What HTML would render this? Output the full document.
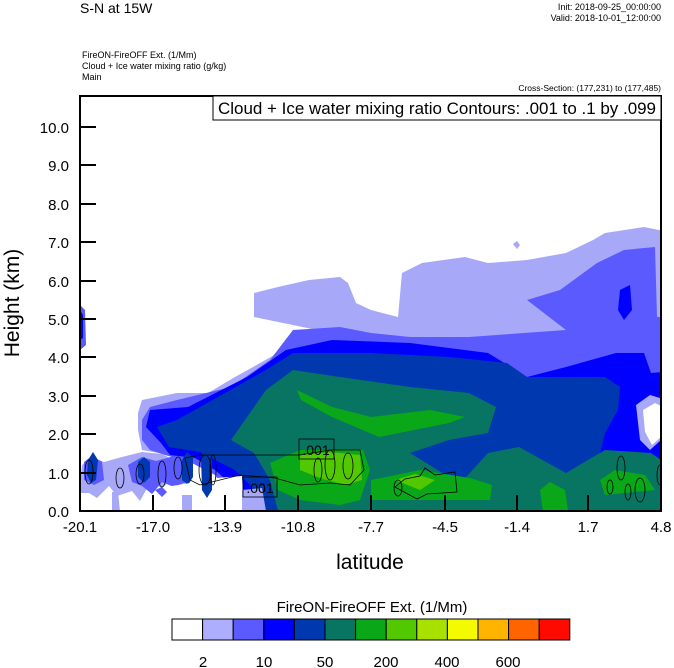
<!DOCTYPE html>
<html><head><meta charset="utf-8"><style>
body{margin:0;background:#fff;}
svg{display:block;font-family:"Liberation Sans",Arial,sans-serif;}
</style></head><body>
<svg width="674" height="668" viewBox="0 0 674 668" xmlns="http://www.w3.org/2000/svg">
<rect width="674" height="668" fill="#fff"/>
<text x="80" y="13" font-size="14">S-N at 15W</text>
<text x="661" y="10" font-size="9" text-anchor="end">Init: 2018-09-25_00:00:00</text>
<text x="661" y="21" font-size="9" text-anchor="end">Valid: 2018-10-01_12:00:00</text>
<text x="82" y="58" font-size="9">FireON-FireOFF Ext.   (1/Mm)</text>
<text x="82" y="69" font-size="9">Cloud + Ice water mixing ratio   (g/kg)</text>
<text x="82" y="80" font-size="9">Main</text>
<text x="661" y="91" font-size="8.5" text-anchor="end">Cross-Section: (177,231) to (177,485)</text>
<defs><clipPath id="pc"><rect x="80" y="96" width="581" height="415"/></clipPath></defs>
<g clip-path="url(#pc)">
<!-- lavender -->
<path fill="#a8a8f8" d="M254,317 L254,293 L278,287 L309,280 L340,277 L348,283 L356,303 L371,310 L398,317 L402,273 L422,263 L465,257 L488,263 L527,260 L566,253 L593,240 L605,233 L644,227 L659,230 L663,230 L663,511 L225,511 L222,485 L212,470 L195,460 L170,455 L142,450 L138,430 L138,413 L142,400 L177,393 L208,393 L235,377 L278,353 L317,330 Z"/>
<path fill="#a8a8f8" d="M513,244 l4,-3 l3,4 l-3,4 Z"/>
<path fill="#a8a8f8" d="M82,465 l10,-8 l12,5 l18,-5 l20,-5 l20,2 l12,6 l-2,20 l-10,8 l-12,-5 l-10,18 l-8,-10 l-15,5 l-8,-10 l-12,12 l-8,-5 l-10,0 Z"/>
<path fill="#a8a8f8" d="M175,485 l8,-5 l6,6 l0,25 l-12,0 Z"/>
<path fill="#a8a8f8" d="M112,492 l6,0 l2,19 l-8,0 Z"/>
<!-- medium blue -->
<path fill="#5a5aff" d="M293,330 L340,327 L371,333 L410,337 L469,337 L566,330 L527,300 L560,290 L597,263 L624,250 L655,247 L657,317 L663,317 L663,511 L232,511 L225,490 L215,475 L190,462 L165,455 L150,450 L142,440 L142,420 L150,407 L177,400 L231,387 L270,360 Z"/>
<path fill="#5a5aff" d="M80,305 L85,310 L86,345 L80,350 Z"/>
<path fill="#5a5aff" d="M84,462 l8,-6 l10,6 l2,18 l-10,5 l-10,-5 Z"/>
<path fill="#5a5aff" d="M128,465 l14,-8 l14,4 l22,-6 l10,8 l0,18 l-14,6 l-12,-5 l-10,12 l-10,-8 l-10,-4 Z"/>
<path fill="#5a5aff" d="M155,490 l7,-3 l5,5 l-5,5 Z"/>
<!-- blue -->
<path fill="#0000ff" d="M286,350 L332,340 L410,343 L488,353 L527,377 L566,367 L616,353 L644,353 L651,373 L663,372 L663,511 L240,511 L232,485 L215,470 L195,458 L170,455 L161,443 L146,427 L150,410 L188,407 L247,377 Z"/>
<path fill="#0000ff" d="M620,290 L630,285 L632,310 L624,320 L618,310 Z"/>
<path fill="#0000ff" d="M80,310 L83,315 L83,338 L80,340 Z"/>
<!-- white hole right -->
<path fill="#a8a8f8" d="M636,405 L650,395 L660,398 L661,440 L650,450 L640,440 Z"/>
<path fill="#fff" d="M643,410 L655,403 L661,406 L661,437 L652,445 L645,432 Z"/>
<!-- dark blue -->
<path fill="#0038b0" d="M266,370 L293,353 L371,353 L449,357 L507,363 L527,377 L605,377 L620,387 L618,410 L605,433 L600,453 L630,470 L650,463 L663,470 L663,511 L265,511 L250,485 L235,470 L215,460 L200,452 L169,447 L157,427 L177,420 Z"/>
<path fill="#0038b0" d="M88,460 l5,-8 l5,8 l-2,20 l-5,3 l-4,-8 Z"/>
<path fill="#0038b0" d="M138,462 l6,-5 l6,5 l0,15 l-6,6 l-6,-6 Z"/>
<path fill="#0038b0" d="M182,460 l5,-8 l6,5 l0,20 l-5,8 l-6,-5 Z"/>
<!-- white bottom-left -->
<path fill="#fff" d="M172,486 L196,482 L200,496 L212,496 L216,478 L242,476 L244,511 L172,511 Z"/>
<path fill="#a8a8f8" d="M242,490 L262,488 L266,511 L242,511 Z"/>
<path fill="#a8a8f8" d="M182,495 L192,495 L192,511 L182,511 Z"/>
<path fill="#0038b0" d="M201,455 l6,-6 l5,6 l0,35 l-5,8 l-5,-8 Z"/>
<!-- teal -->
<path fill="#077562" d="M266,390 L293,370 L340,377 L410,387 L469,393 L496,407 L488,433 L449,440 L410,453 L449,477 L457,487 L488,453 L519,447 L566,473 L605,450 L651,453 L661,460 L661,511 L278,511 L270,480 L254,453 L231,440 Z"/>
<!-- green -->
<path fill="#0aa818" d="M297,390 L332,407 L371,417 L430,410 L465,417 L449,423 L379,437 L332,417 L301,400 Z"/>
<path fill="#0aa818" d="M270,463 L300,450 L363,450 L370,470 L360,500 L340,505 L300,500 L278,490 Z"/>
<path fill="#0aa818" d="M371,480 L420,470 L470,478 L492,485 L490,500 L430,500 L371,500 Z"/>
<path fill="#0aa818" d="M540,490 l10,-8 l15,8 l3,21 l-25,0 Z"/>
<path fill="#0aa818" d="M600,480 l15,-10 l30,5 l10,15 l-50,5 Z"/>
<!-- light green -->
<path fill="#52c800" d="M300,455 L330,452 L360,455 L362,480 L345,485 L320,478 L300,470 Z"/>
<path fill="#52c800" d="M395,480 l20,-6 l20,6 l-15,10 Z"/>
<!-- contours -->
<g fill="none" stroke="#000" stroke-width="0.8">
<ellipse cx="89" cy="472" rx="4" ry="12"/>
<ellipse cx="120" cy="478" rx="4" ry="10"/>
<ellipse cx="140" cy="474" rx="4" ry="10"/>
<ellipse cx="162" cy="474" rx="4" ry="13"/>
<ellipse cx="178" cy="468" rx="4" ry="11"/>
<ellipse cx="205" cy="470" rx="6" ry="15"/>
<ellipse cx="213" cy="470" rx="3" ry="15"/>
<path d="M185,458 L200,455 L240,455 L300,455 L330,450 L360,450 L364,470 L350,485 L330,483 L300,485 L275,478 L240,475 L200,485 L190,480 Z"/>
<ellipse cx="330" cy="465" rx="5" ry="15"/>
<ellipse cx="348" cy="466" rx="5" ry="13"/>
<ellipse cx="318" cy="470" rx="4" ry="12"/>
<path d="M395,487 l10,-8 l15,-3 l5,-8 l10,7 l20,-3 l2,20 l-30,2 l-10,5 Z"/>
<ellipse cx="398" cy="488" rx="4" ry="8"/>
<ellipse cx="621" cy="468" rx="4" ry="12"/>
<ellipse cx="610" cy="487" rx="3" ry="7"/>
<ellipse cx="640" cy="490" rx="5" ry="12"/>
<ellipse cx="628" cy="492" rx="3" ry="8"/>
<ellipse cx="660" cy="475" rx="3" ry="10"/>
</g>
<rect x="299" y="439" width="35" height="20" fill="none" stroke="#000" stroke-width="0.8"/>
<text x="316" y="455" font-size="14" text-anchor="middle">.001</text>
<rect x="243" y="477" width="34" height="20" fill="none" stroke="#000" stroke-width="0.8"/>
<text x="260" y="493" font-size="14" text-anchor="middle">.001</text>
</g>
<!-- frame -->
<rect x="80" y="96" width="581" height="415" fill="none" stroke="#000" stroke-width="2"/>
<rect x="213" y="96" width="448" height="24" fill="#fff" stroke="#000" stroke-width="1"/>
<text x="218" y="114" font-size="17" textLength="438" lengthAdjust="spacingAndGlyphs">Cloud + Ice water mixing ratio Contours: .001 to .1 by .099</text>
<g stroke="#000" stroke-width="2">
<line x1="80" y1="127" x2="96" y2="127"/><line x1="80" y1="165" x2="96" y2="165"/><line x1="80" y1="204" x2="96" y2="204"/><line x1="80" y1="242" x2="96" y2="242"/><line x1="80" y1="281" x2="96" y2="281"/><line x1="80" y1="319" x2="96" y2="319"/><line x1="80" y1="357" x2="96" y2="357"/><line x1="80" y1="396" x2="96" y2="396"/><line x1="80" y1="434" x2="96" y2="434"/><line x1="80" y1="473" x2="96" y2="473"/>
<line x1="153" y1="511" x2="153" y2="495"/><line x1="225" y1="511" x2="225" y2="495"/><line x1="298" y1="511" x2="298" y2="495"/><line x1="371" y1="511" x2="371" y2="495"/><line x1="445" y1="511" x2="445" y2="495"/><line x1="517" y1="511" x2="517" y2="495"/><line x1="588" y1="511" x2="588" y2="495"/>
</g>
<g font-size="15" text-anchor="end">
<text x="69" y="133">10.0</text><text x="69" y="171">9.0</text><text x="69" y="210">8.0</text><text x="69" y="248">7.0</text><text x="69" y="287">6.0</text><text x="69" y="325">5.0</text><text x="69" y="363">4.0</text><text x="69" y="402">3.0</text><text x="69" y="440">2.0</text><text x="69" y="479">1.0</text><text x="69" y="517">0.0</text>
</g>
<g font-size="15" text-anchor="middle">
<text x="80" y="532">-20.1</text><text x="153" y="532">-17.0</text><text x="225" y="532">-13.9</text><text x="298" y="532">-10.8</text><text x="371" y="532">-7.7</text><text x="445" y="532">-4.5</text><text x="517" y="532">-1.4</text><text x="588" y="532">1.7</text><text x="661" y="532">4.8</text>
</g>
<text x="370" y="569" font-size="21" text-anchor="middle">latitude</text>
<text transform="translate(19,303) rotate(-90)" font-size="21" text-anchor="middle">Height (km)</text>
<text x="372" y="612" font-size="15" text-anchor="middle">FireON-FireOFF Ext.  (1/Mm)</text>
<g stroke="#000" stroke-width="1">
<rect x="172" y="619" width="30.6" height="21" fill="#ffffff"/>
<rect x="202.6" y="619" width="30.6" height="21" fill="#aeaeff"/>
<rect x="233.2" y="619" width="30.6" height="21" fill="#5a5aff"/>
<rect x="263.8" y="619" width="30.6" height="21" fill="#0000ff"/>
<rect x="294.4" y="619" width="30.6" height="21" fill="#0038b0"/>
<rect x="325" y="619" width="30.6" height="21" fill="#077562"/>
<rect x="355.6" y="619" width="30.6" height="21" fill="#0aa818"/>
<rect x="386.2" y="619" width="30.6" height="21" fill="#52c800"/>
<rect x="416.8" y="619" width="30.6" height="21" fill="#a8e000"/>
<rect x="447.4" y="619" width="30.6" height="21" fill="#f4fa00"/>
<rect x="478" y="619" width="30.6" height="21" fill="#ffb400"/>
<rect x="508.6" y="619" width="30.6" height="21" fill="#ff6400"/>
<rect x="539.2" y="619" width="30.6" height="21" fill="#ff0a00"/>
</g>
<g font-size="15" text-anchor="middle">
<text x="203" y="667">2</text><text x="264" y="667">10</text><text x="325" y="667">50</text><text x="386" y="667">200</text><text x="447" y="667">400</text><text x="508" y="667">600</text>
</g>
</svg>
</body></html>
